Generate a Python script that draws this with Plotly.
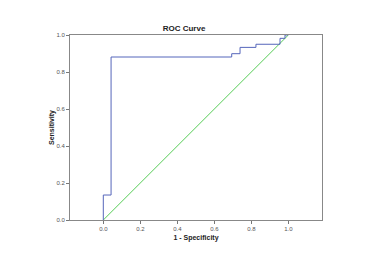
import plotly.graph_objects as go

# ROC curve step points (1 - specificity, sensitivity)
fpr = [0.0, 0.0, 0.042, 0.042, 0.694, 0.694, 0.739, 0.739, 0.825, 0.825, 0.955, 0.955, 0.982, 0.982, 1.0]
tpr = [0.0, 0.135, 0.135, 0.881, 0.881, 0.899, 0.899, 0.933, 0.933, 0.95, 0.95, 0.982, 0.982, 1.0, 1.0]
ref_x = [0.0, 1.0]
ref_y = [0.0, 1.0]
ticks = [0.0, 0.2, 0.4, 0.6, 0.8, 1.0]
tick_labels = ["0.0", "0.2", "0.4", "0.6", "0.8", "1.0"]

fig = go.Figure()
fig.add_trace(go.Scatter(x=ref_x, y=ref_y, mode="lines",
                         line=dict(color="#55cc55", width=1), hoverinfo="skip"))
fig.add_trace(go.Scatter(x=fpr, y=tpr, mode="lines",
                         line=dict(color="#5566bb", width=1), hoverinfo="skip"))

axis_common = dict(
    tickvals=ticks, ticktext=tick_labels, ticks="outside", ticklen=3,
    tickcolor="#777777", tickwidth=1, showgrid=False, zeroline=False,
    showline=True, linecolor="#888888", linewidth=1, mirror=True,
    tickfont=dict(family="Liberation Sans, Arial", size=6, color="#555555"),
)

W, H = 360, 257
fig.update_layout(
    width=W, height=H,
    margin=dict(l=62, r=46, t=27, b=45),
    paper_bgcolor="white", plot_bgcolor="white",
    showlegend=False,
    title=dict(text="<b>ROC Curve</b>", x=176 / W, xref="container", xanchor="center",
               y=1 - 20 / H, yref="container", yanchor="middle",
               font=dict(family="Liberation Sans, Arial", size=8, color="#222222")),
    xaxis=dict(range=[-0.18, 1.182],
               title=dict(text="<b>1 - Specificity</b>", standoff=3,
                          font=dict(family="Liberation Sans, Arial", size=7, color="#222222")),
               **axis_common),
    yaxis=dict(range=[0, 1],
               title=dict(text="<b>Sensitivity</b>", standoff=1,
                          font=dict(family="Liberation Sans, Arial", size=7, color="#222222")),
               **axis_common),
)

fig.write_html("out.html")
